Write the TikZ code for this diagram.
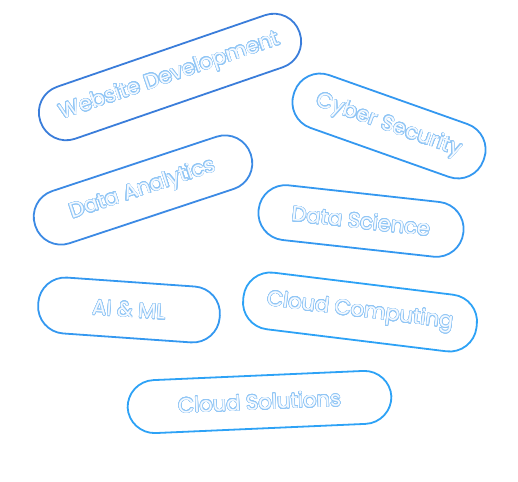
\documentclass[tikz,border=0pt]{standalone}
\usepackage{fontspec}
\setmainfont{Poppins}
\usepackage[copies]{contour}
\contourlength{0.55pt}
\contournumber{24}
\definecolor{txtstroke}{RGB}{145,198,245}
\definecolor{txtfill}{RGB}{246,250,255}
\definecolor{pillA}{RGB}{58,125,218}
\definecolor{pillB}{RGB}{60,138,228}
\definecolor{pillC}{RGB}{52,152,240}
\definecolor{pillD}{RGB}{45,162,246}
\newcommand{\otext}[1]{\contour{txtstroke}{\textcolor{txtfill}{#1}}}
\tikzset{
  pill/.style={draw=#1, line width=1.8pt, rounded corners=27pt, inner sep=0pt,
    font=\fontsize{21}{24}\selectfont, align=center},
}
\begin{document}
\begin{tikzpicture}[x=1pt,y=1pt]
\useasboundingbox (0,0) rectangle (518,481);
\node[pill=pillA, minimum width=274pt, minimum height=55pt, rotate=19] (web) at (170,404) {\otext{Website Development}};
\node[pill=pillC, minimum width=201pt, minimum height=56pt, rotate=-19.5] (cyber) at (389,355) {\otext{Cyber Security}};
\node[pill=pillB, minimum width=227pt, minimum height=55pt, rotate=18.3] (da) at (143,291) {\otext{Data Analytics}};
\node[pill=pillC, minimum width=206pt, minimum height=55pt, rotate=-6.3] (ds) at (361,260) {\otext{Data Science}};
\node[pill=pillC, minimum width=182pt, minimum height=56pt, rotate=-4] (ai) at (129,171) {\otext{AI \& ML}};
\node[pill=pillD, minimum width=235pt, minimum height=57pt, rotate=-7] (cc) at (360,169) {\otext{Cloud Computing}};
\node[pill=pillD, minimum width=264pt, minimum height=53pt, rotate=2.5] (cs) at (259.5,79) {\otext{Cloud Solutions}};
\end{tikzpicture}
\end{document}
